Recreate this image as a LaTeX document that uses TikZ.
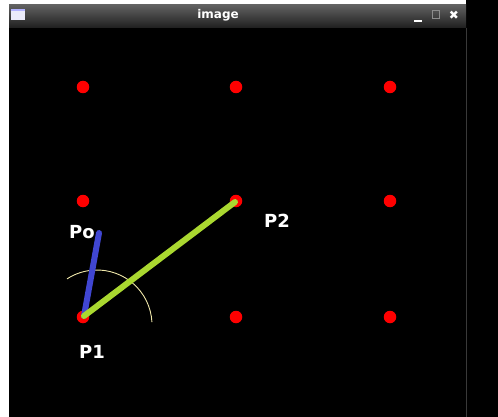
\documentclass[tikz,border=0pt]{standalone}
\usepackage{fontspec}
\setmainfont{DejaVu Sans}
\definecolor{lime}{RGB}{170,216,48}
\definecolor{bluel}{RGB}{64,70,210}
\definecolor{arcc}{RGB}{240,232,170}
\begin{document}
\begin{tikzpicture}[x=1pt,y=-1pt,
  dot/.style={circle,fill=red,inner sep=0pt,minimum size=12.5pt},
  lbl/.style={text=white,font=\bfseries\fontsize{18}{18}\selectfont,inner sep=0pt},
  seg/.style={line width=6pt,line cap=round}]
\useasboundingbox (0,0) rectangle (498,417);
\fill[white] (0,0) rectangle (498,417);
\fill[black] (9,28) rectangle (466,417);
\fill[black] (466,0) rectangle (498,417);
\draw[gray!45!black,line width=1.2pt] (466.5,28) -- (466.5,417);
% title bar
\shade[top color=black!62,bottom color=black!88] (9,5) rectangle (466,28);
\fill[black!25!blue!8!white] (11,9) rectangle (25,20);
\fill[white!70!blue] (11,9) rectangle (25,11.5);
\node[text=white,font=\bfseries\fontsize{12}{12}\selectfont,inner sep=0pt] (title) at (218,15) {image};
\draw[white,line width=2pt] (414,21) -- (422,21);
\draw[black!45,line width=1pt] (432,11) rectangle (439,19);
\node[text=white,font=\bfseries\fontsize{12}{12}\selectfont,inner sep=0pt] (close) at (454,15) {✖};
% grid dots
\foreach \i/\x in {1/83,2/236,3/390}{
  \foreach \j/\y in {1/87,2/201,3/317}{
    \node[dot] (d\i\j) at (\x,\y) {};
  }
}
\coordinate (P1) at (84,316);
\coordinate (P2) at (235,202);
\coordinate (Po) at (99,233);
% arc
\draw[arcc,line width=0.9pt] (97,325) ++(-3:55) arc[start angle=-3,end angle=-123,radius=55];
\draw[seg,bluel] (P1) -- (Po);
\draw[seg,lime] (P1) -- (P2);
\node[lbl] (lPo) at (82,232) {Po};
\node[lbl] (lP1) at (92,352) {P1};
\node[lbl] (lP2) at (277,221) {P2};
\end{tikzpicture}
\end{document}
